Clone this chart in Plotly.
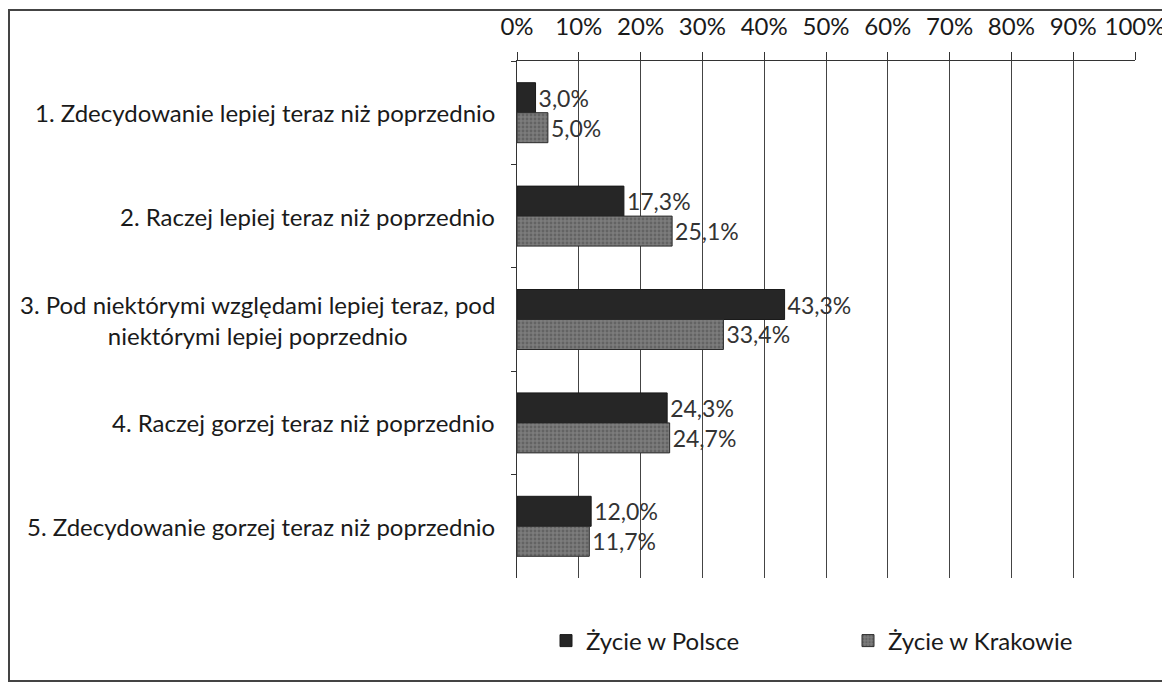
import plotly.graph_objects as go

categories = [
    "1. Zdecydowanie lepiej teraz niż poprzednio",
    "2. Raczej lepiej teraz niż poprzednio",
    "3. Pod niektórymi względami lepiej teraz, pod<br>niektórymi lepiej poprzednio",
    "4. Raczej gorzej teraz niż poprzednio",
    "5. Zdecydowanie gorzej teraz niż poprzednio",
]
polska = [3.0, 17.3, 43.3, 24.3, 12.0]
krakow = [5.0, 25.1, 33.4, 24.7, 11.7]
series_names = ["Życie w Polsce", "Życie w Krakowie"]
tick_vals = [0, 10, 20, 30, 40, 50, 60, 70, 80, 90, 100]
tick_text = [f"{v}%" for v in tick_vals]

def fmt(v):
    return f"{v:.1f}".replace(".", ",") + "%"

FONT = "Lato"
FS = 24
FSV = 23
TXT = "#1a1a1a"

# pixel frame (figure coordinates)
L, R, T, B = 509, 1127, 53, 570
W, H = 1170, 683
pw, ph = R - L, B - T

fig = go.Figure()
fig.add_trace(go.Bar(
    y=categories, x=polska, orientation="h", name=series_names[0], legend="legend",
    marker=dict(color="#262626", line=dict(color="#1a1a1a", width=1)),
    text=[fmt(v) for v in polska], textposition="outside",
    textfont=dict(family=FONT, size=FSV, color="#333"), cliponaxis=False,
))
fig.add_trace(go.Bar(
    y=categories, x=krakow, orientation="h", name=series_names[1], legend="legend2",
    marker=dict(color="#707070", line=dict(color="#2a2a2a", width=1),
                pattern=dict(shape=".", fgcolor="#4a4a4a", bgcolor="#7c7c7c", size=4, solidity=0.4)),
    text=[fmt(v) for v in krakow], textposition="outside",
    textfont=dict(family=FONT, size=FSV, color="#333"), cliponaxis=False,
))

for c in categories:
    fig.add_annotation(x=(489 - L) / pw, xref="paper", y=c, yref="y", text=c,
                       xanchor="right", align="center", showarrow=False,
                       font=dict(family=FONT, size=FS, color=TXT))

leg_y = -(633 - B) / ph
fig.update_layout(
    width=W, height=H,
    margin=dict(l=L, r=W - R, t=T, b=H - B, autoexpand=False),
    paper_bgcolor="white", plot_bgcolor="white",
    barmode="group", bargap=0.42, bargroupgap=0,
    font=dict(family=FONT, size=FS, color=TXT),
    showlegend=True,
    legend=dict(orientation="h", x=(538 - L) / pw, xanchor="left", y=leg_y, yanchor="middle",
                borderwidth=0, font=dict(family=FONT, size=FS, color=TXT)),
    legend2=dict(orientation="h", x=(840 - L) / pw, xanchor="left", y=leg_y, yanchor="middle",
                 borderwidth=0, font=dict(family=FONT, size=FS, color=TXT)),
    xaxis=dict(side="top", range=[0, 100], tickvals=tick_vals, ticktext=tick_text,
               showgrid=True, gridcolor="#444", gridwidth=1,
               showline=True, linecolor="#333", linewidth=1,
               ticks="outside", ticklen=8, tickcolor="#333", zeroline=False,
               ticklabelstandoff=7, automargin=False,
               tickfont=dict(family=FONT, size=FS, color=TXT)),
    yaxis=dict(range=[4.5, -0.5], showticklabels=False, showline=True,
               linecolor="#333", linewidth=1, ticks="outside", tickson="boundaries",
               ticklen=5, tickcolor="#333", showgrid=False, automargin=False),
    shapes=[dict(type="rect", xref="paper", yref="paper",
                 x0=(1 - L) / pw, x1=(1159 - L) / pw,
                 y0=-(673 - B) / ph, y1=1 + (T - 2) / ph,
                 line=dict(color="#444", width=2), layer="below")],
)

fig.write_html("out.html")
